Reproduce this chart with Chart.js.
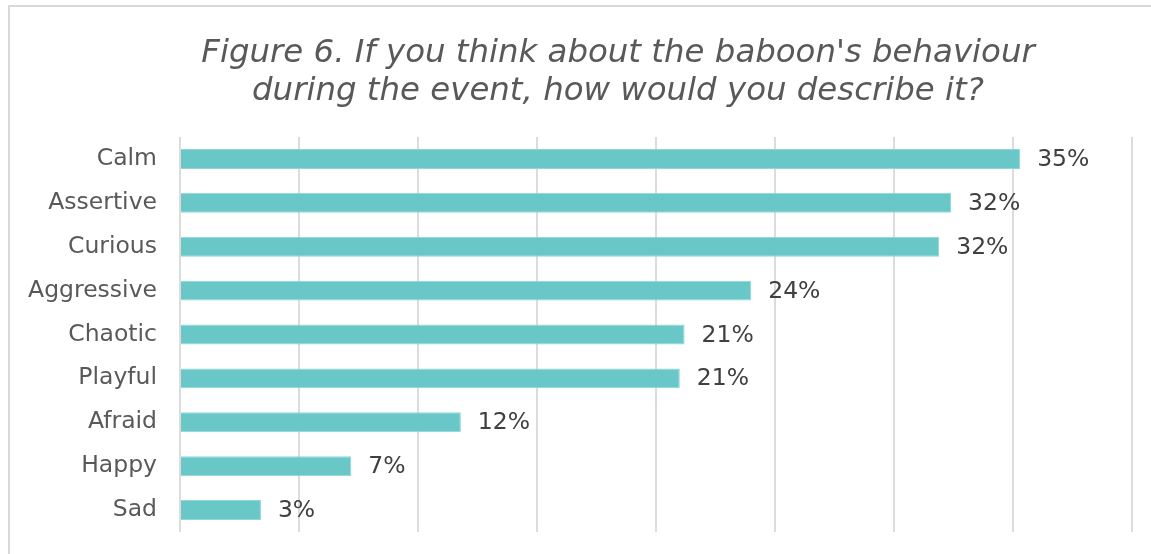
<!DOCTYPE html>
<html>
<head>
<meta charset="utf-8">
<title>Baboon behaviour</title>
<script src="https://cdn.jsdelivr.net/npm/chart.js@4/dist/chart.umd.min.js"></script>
<style>
    html, body { margin: 0; padding: 0; background: #fff; overflow: hidden; }
    .frame {
        position: absolute;
        left: 8px;
        top: 5px;
        width: 1400px;
        height: 800px;
        border: 2px solid #d9d9d9;
    }
    .wrap { position: absolute; left: 0; top: 0; width: 1151px; height: 554px; }
</style>
</head>
<body>
<div class="frame"></div>
<div class="wrap"><canvas id="chart"></canvas></div>
<script>
// Share of respondents choosing each description (%)
const categories = ['Calm', 'Assertive', 'Curious', 'Aggressive', 'Chaotic', 'Playful', 'Afraid', 'Happy', 'Sad'];
const shares = [35.3, 32.4, 31.9, 24.0, 21.2, 21.0, 11.8, 7.2, 3.4];
const titleLines = [
    "Figure 6. If you think about the baboon's behaviour",
    'during the event, how would you describe it?'
];

const FONT = '"DejaVu Sans", Verdana, sans-serif';

// Title drawn above the plot, two italic lines
const titlePlugin = {
    id: 'figTitle',
    afterDraw(chart) {
        const ctx = chart.ctx;
        ctx.save();
        ctx.font = 'italic 32.4px ' + FONT;
        ctx.fillStyle = '#595959';
        ctx.textAlign = 'center';
        ctx.textBaseline = 'alphabetic';
        titleLines.forEach((line, i) => {
            ctx.fillText(line, 618, 62 + i * 38);
        });
        ctx.restore();
    }
};

// Percentage labels at the end of each bar
const valueLabels = {
    id: 'valueLabels',
    afterDatasetsDraw(chart) {
        const ctx = chart.ctx;
        const meta = chart.getDatasetMeta(0);
        ctx.save();
        ctx.font = '23.5px ' + FONT;
        ctx.fillStyle = '#404040';
        ctx.textAlign = 'left';
        ctx.textBaseline = 'middle';
        meta.data.forEach((bar, i) => {
            const v = chart.data.datasets[0].data[i];
            ctx.fillText(Math.round(v) + '%', bar.x + 17, bar.y + 1);
        });
        ctx.restore();
    }
};

new Chart(document.getElementById('chart'), {
    type: 'bar',
    data: {
        labels: categories,
        datasets: [{
            data: shares,
            backgroundColor: '#69c7c8',
            borderColor: '#8fd6d6',
            borderWidth: 1,
            categoryPercentage: 1,
            barPercentage: 0.455
        }]
    },
    options: {
        indexAxis: 'y',
        responsive: true,
        maintainAspectRatio: false,
        animation: false,
        layout: {
            padding: { left: 10, right: 19, top: 137, bottom: 22 }
        },
        plugins: {
            legend: { display: false },
            title: { display: false },
            tooltip: { enabled: false }
        },
        scales: {
            x: {
                min: 0,
                max: 40,
                ticks: { display: false, stepSize: 5 },
                grid: { color: '#dcdcdc', lineWidth: 2, drawTicks: false },
                border: { display: false },
                afterFit(scale) {
                    scale.height = 0;
                    scale.paddingLeft = 0;
                    scale.paddingRight = 0;
                }
            },
            y: {
                grid: { display: false, drawTicks: false },
                border: { display: false },
                ticks: {
                    color: '#595959',
                    font: { family: FONT, size: 23.5 },
                    padding: 23
                },
                afterFit(scale) {
                    scale.width = 170;
                    scale.paddingTop = 0;
                    scale.paddingBottom = 0;
                }
            }
        }
    },
    plugins: [titlePlugin, valueLabels]
});
</script>
</body>
</html>
